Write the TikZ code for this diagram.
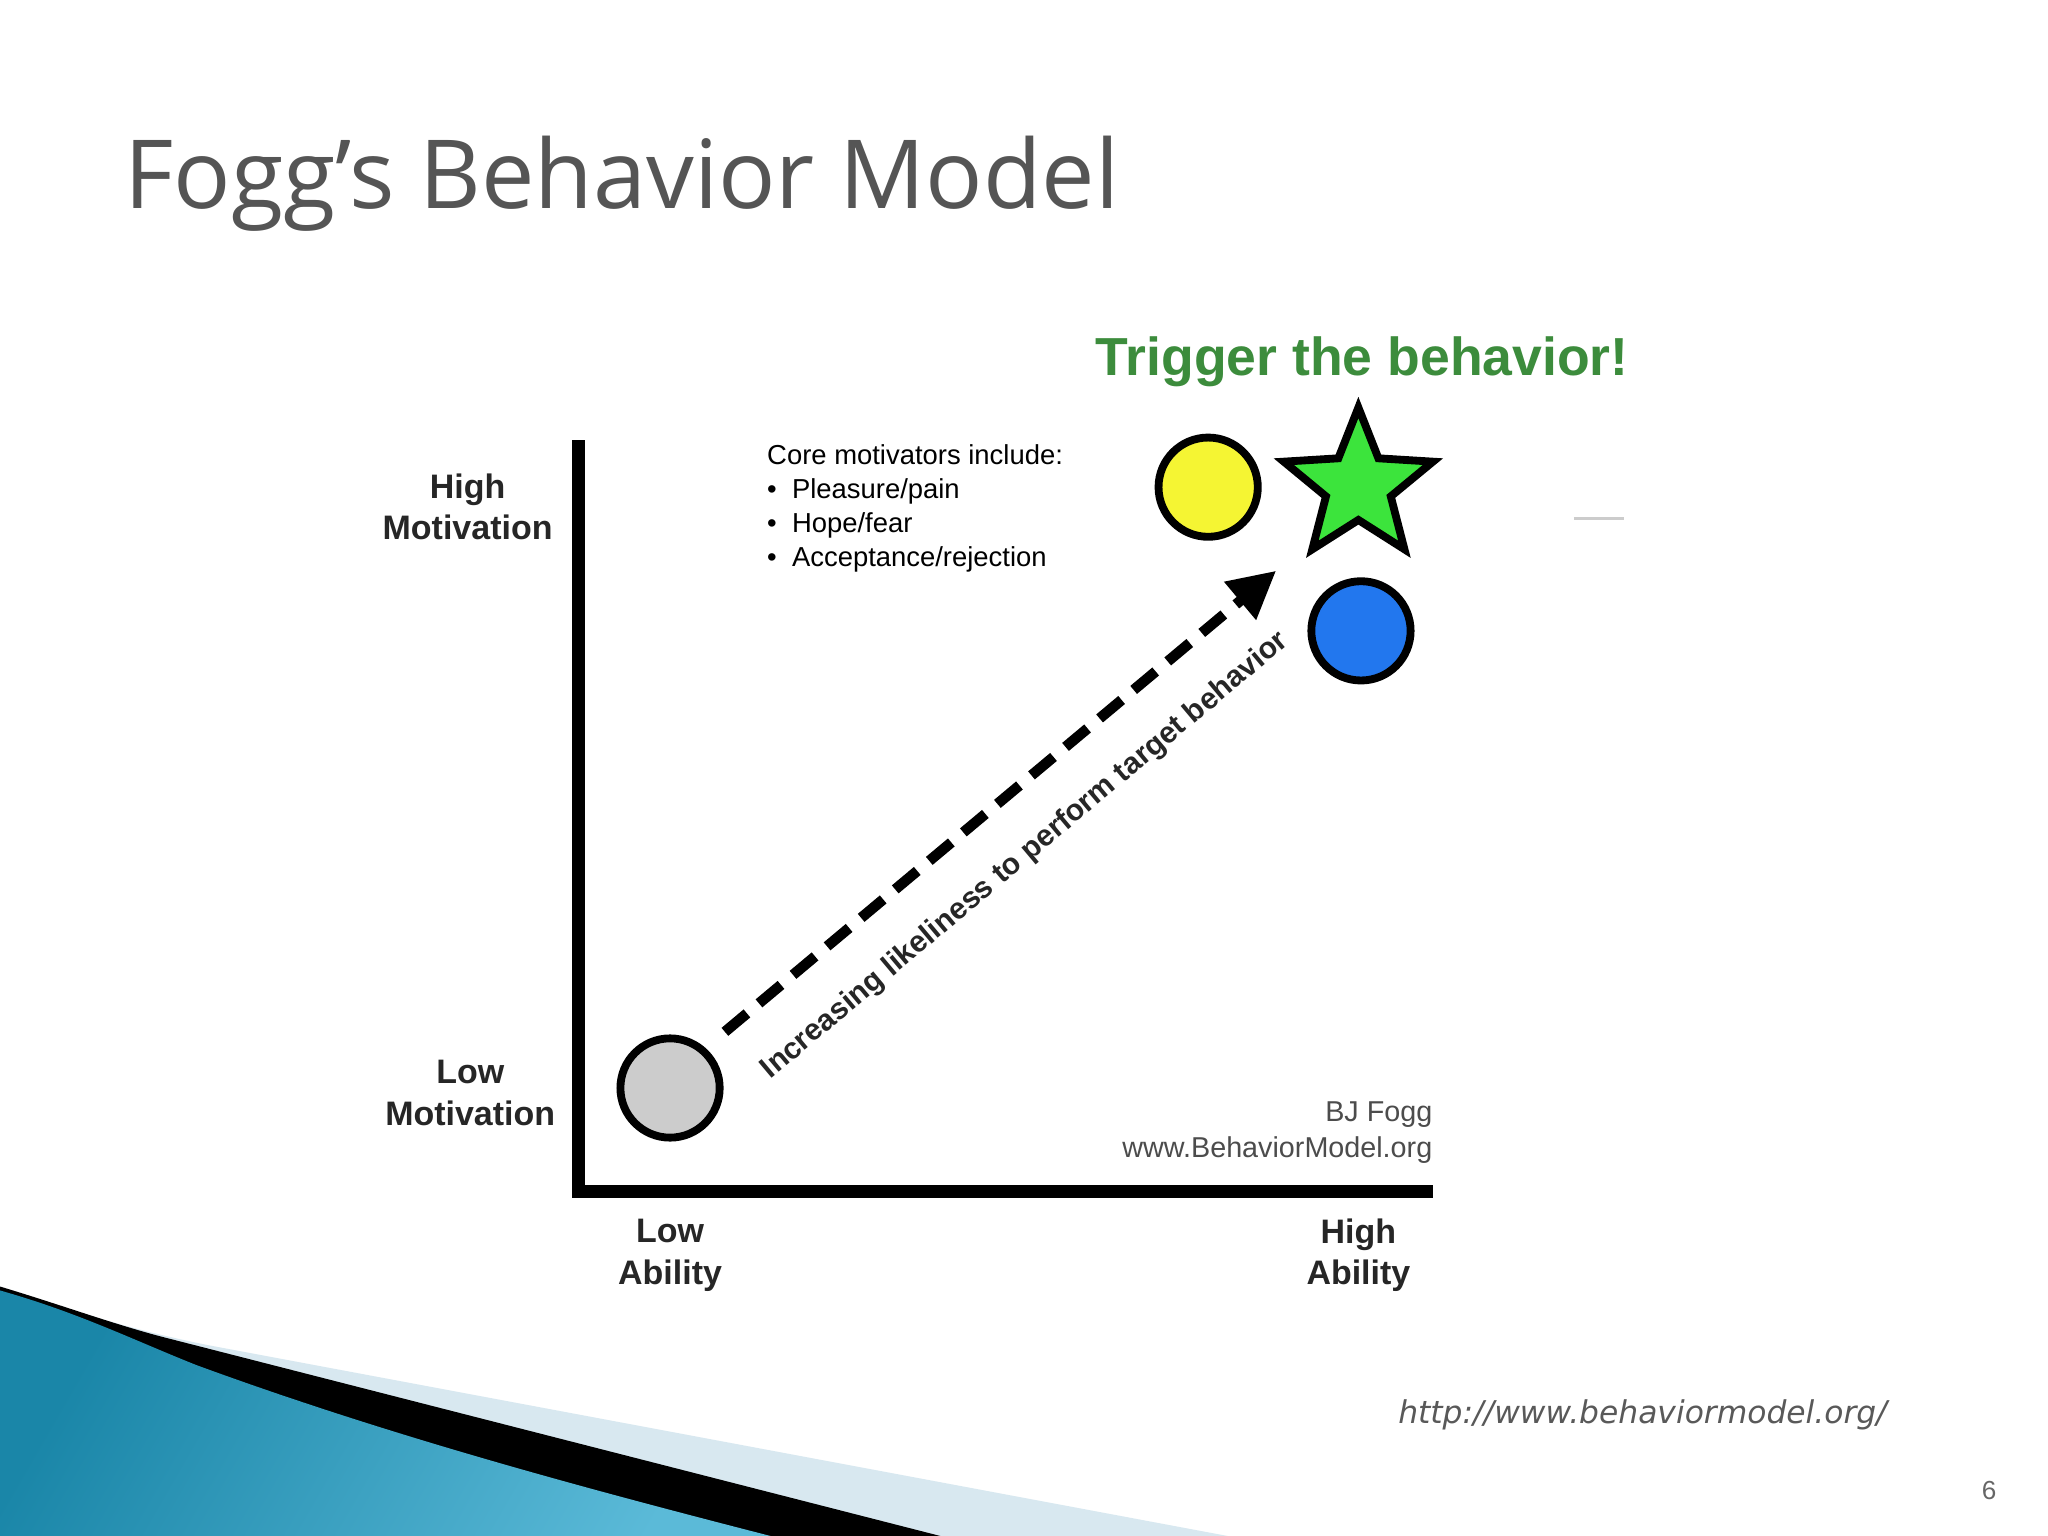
\documentclass[tikz,border=0pt]{standalone}
\usepackage{fontspec}
\setmainfont{Liberation Sans}
\newfontfamily\titlefont{Open Sans}
\newfontfamily\dejavu{DejaVu Sans}
\usetikzlibrary{shapes.geometric,arrows.meta,shadings}
\definecolor{titlegray}{HTML}{555555}
\definecolor{trig}{HTML}{3C8C3C}
\definecolor{teal}{HTML}{1A86A8}
\definecolor{lightteal}{HTML}{5BBAD8}
\definecolor{paleblue}{HTML}{D8E8F0}
\definecolor{yel}{HTML}{F5F533}
\definecolor{grn}{HTML}{3CE43C}
\definecolor{blu}{HTML}{2277EE}
\definecolor{gry}{HTML}{CCCCCC}
\tikzset{
  axislabel/.style={font=\bfseries\fontsize{13}{16}\selectfont, align=center, text=black!85},
  dot/.style={circle, draw=black, line width=3pt, minimum size=38pt, inner sep=0pt},
}
\begin{document}
\begin{tikzpicture}[x=0.5pt,y=-0.5pt]
\useasboundingbox (0,0) rectangle (1568,1176);
\fill[white] (0,0) rectangle (1568,1176);
% swoosh
\fill[paleblue] (0,985) .. controls (60,1005) and (100,1018) .. (160,1030) -- (940,1176) -- (0,1176) -- cycle;
\fill[black] (0,985) .. controls (50,1000) and (90,1015) .. (130,1025) -- (720,1176) -- (0,1176) -- cycle;
\shade[left color=teal, right color=lightteal, shading angle=60] (0,988) .. controls (60,1005) and (100,1025) .. (150,1045) .. controls (300,1100) and (450,1140) .. (590,1176) -- (0,1176) -- cycle;
% title
\node[anchor=base west, inner sep=0pt, text=titlegray, font=\titlefont\fontsize{36.5}{40}\selectfont] (title) at (95,160) {Fogg’s Behavior Model};
% axes
\coordinate (origin) at (443,912);
\coordinate (ytop) at (443,337);
\coordinate (xend) at (1097,912);
\draw[line width=5pt] (ytop) -- (origin) -- (xend);
% axis labels
\node[axislabel] (hm) at (358,388) {High\\Motivation};
\node[axislabel] (lm) at (360,837) {Low\\Motivation};
\node[axislabel] (la) at (513,961) {Low\\Ability};
\node[axislabel] (ha) at (1040,961) {High\\Ability};
% dots
\node[dot, fill=gry] (gray) at (513,833) {};
\node[dot, fill=yel] (yellow) at (925,373) {};
\node[dot, fill=blu] (blue) at (1042,483) {};
\node[star, star points=5, star point ratio=2.3, draw=black, line width=3pt, fill=grn, minimum size=60pt, inner sep=0pt] (star) at (1040,372) {};
% arrow
\coordinate (as) at (555,790);
\coordinate (ae) at (977,437);
\draw[line width=4pt, dash pattern=on 11pt off 6pt, -{Triangle[length=18pt,width=18pt]}] (as) -- (ae);
\node[rotate=40, font=\bfseries\fontsize{11.5}{12}\selectfont, text=black!85] (inc) at (785,655) {Increasing likeliness to perform target behavior};
% trigger
\node[font=\bfseries\fontsize{20.5}{22}\selectfont, text=trig] (trigger) at (1043,277) {Trigger the behavior!};
% core motivators
\node[anchor=north west, align=left, inner sep=0pt, font=\fontsize{10.5}{13}\selectfont] (core) at (587,340) {Core motivators include:\\[0pt]
\textbullet\ \ Pleasure/pain\\
\textbullet\ \ Hope/fear\\
\textbullet\ \ Acceptance/rejection};
% credit
\node[anchor=east, align=right, inner sep=0pt, text=black!70, font=\fontsize{11}{14}\selectfont] (credit) at (1097,867) {BJ Fogg\\www.BehaviorModel.org};
% small dash
\draw[gray!40, line width=1pt] (1205,397) -- (1243,397);
% url
\node[anchor=base east, inner sep=0pt, text=black!65, font=\dejavu\itshape\fontsize{12}{14}\selectfont] (url) at (1445,1090) {http://www.behaviormodel.org/};
\node[text=black!60, font=\fontsize{10}{12}\selectfont] (pg) at (1523,1141) {6};
\end{tikzpicture}
\end{document}
